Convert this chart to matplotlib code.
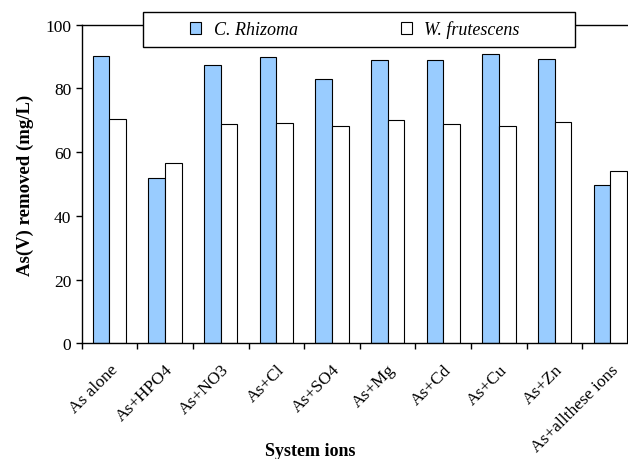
import numpy as np
import matplotlib
matplotlib.use("Agg")
import matplotlib.pyplot as plt
from matplotlib.patches import Rectangle, Patch

plt.rcParams["font.family"] = ["Liberation Serif", "DejaVu Serif"]

systems = ["As alone", "As+HPO4", "As+NO3", "As+Cl", "As+SO4",
           "As+Mg", "As+Cd", "As+Cu", "As+Zn", "As+allthese ions"]
rhizoma = [90.2, 51.8, 87.3, 89.7, 82.8, 88.9, 88.9, 90.9, 89.3, 49.8]
frutescens = [70.4, 56.6, 68.7, 69.1, 68.3, 70.0, 68.7, 68.3, 69.5, 54.1]

fig = plt.figure(figsize=(6.28, 4.6), dpi=100)
ax = fig.add_axes([0.130, 0.2515, 0.886, 0.6928])

x = np.arange(len(systems))
w = 0.3
ax.bar(x - w / 2, rhizoma, w, color="#99ccff", edgecolor="black", linewidth=0.8)
ax.bar(x + w / 2, frutescens, w, color="white", edgecolor="black", linewidth=0.8)

ax.set_xlim(-0.5, len(systems) - 0.5)
ax.set_ylim(0, 100)
ax.set_yticks([0, 20, 40, 60, 80, 100])
ax.tick_params(axis="y", direction="out", length=4, width=1, labelsize=12.5)

# boundaries between groups get the tick marks, labels sit at group centres
ax.set_xticks(np.arange(len(systems) + 1) - 0.5)
ax.set_xticklabels([])
ax.tick_params(axis="x", which="major", direction="out", length=4, width=1)
ax.set_xticks(x, minor=True)
ax.set_xticklabels(systems, minor=True, rotation=45, ha="right",
                   rotation_mode="anchor", fontsize=12.5)
ax.tick_params(axis="x", which="minor", length=0, pad=13)

ax.spines["right"].set_visible(False)
for s in ["left", "bottom", "top"]:
    ax.spines[s].set_linewidth(1)

ax.set_ylabel("As(V) removed (mg/L)", fontsize=13.5, fontweight="bold", labelpad=8)
fig.text(310 / 628, 1 - 452 / 460, "System ions", fontsize=13, fontweight="bold",
         ha="center", va="center")

# legend box laid over the top spine
fig.patches.append(Rectangle((143 / 628, 1 - 47.7 / 460), 432 / 628, 35 / 460,
                             transform=fig.transFigure, facecolor="white",
                             edgecolor="black", linewidth=1, zorder=5))
handles = [Patch(facecolor="#99ccff", edgecolor="black", linewidth=0.8),
           Patch(facecolor="white", edgecolor="black", linewidth=0.8)]
leg = fig.legend(handles, ["C. Rhizoma", "W. frutescens"], loc="center",
                 bbox_to_anchor=(355 / 628, 1 - 30.2 / 460), ncol=2,
                 frameon=False, handlelength=0.6, handleheight=0.6,
                 handletextpad=0.7, columnspacing=5.7,
                 prop={"style": "italic", "size": 13})
leg.set_zorder(6)

fig.savefig("out.png", dpi=100)
